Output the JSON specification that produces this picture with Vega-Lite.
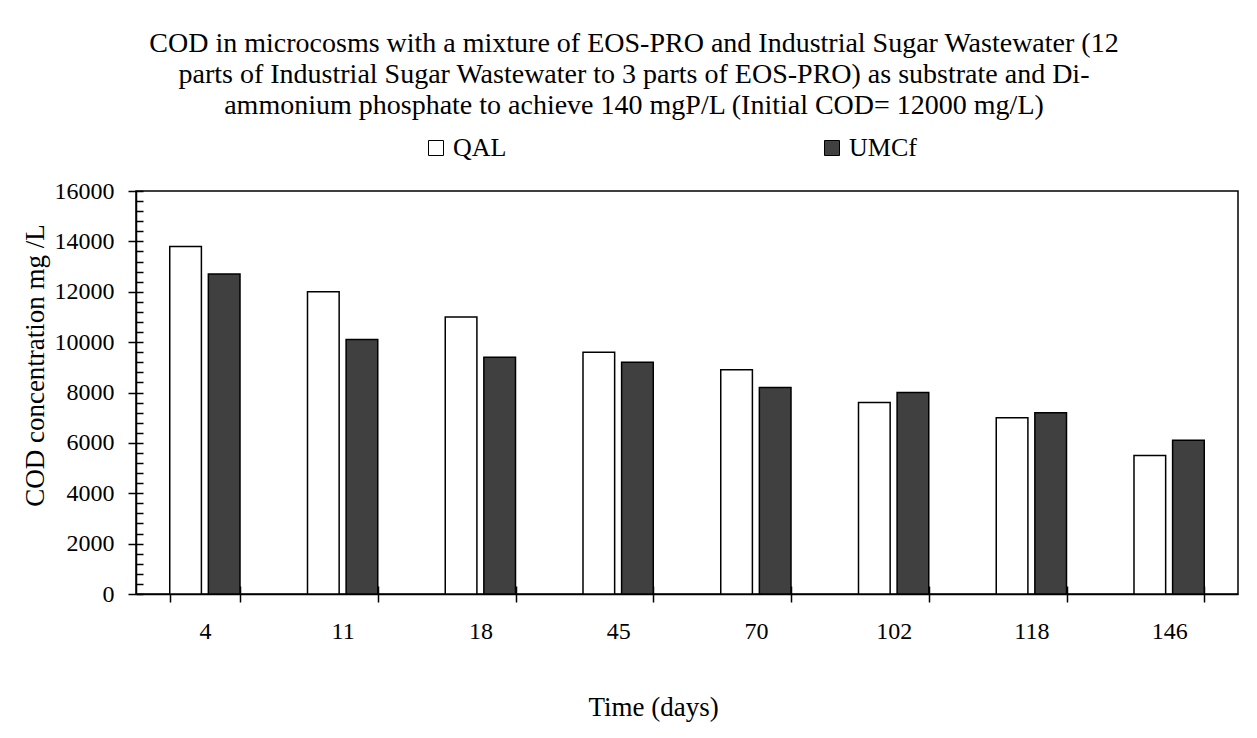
{
  "$schema": "https://vega.github.io/schema/vega-lite/v6.json",
  "width": 1102,
  "height": 403,
  "autosize": {"type": "none"},
  "padding": {"left": 136, "top": 191, "right": 19, "bottom": 144},
  "background": "white",
  "title": {
    "text": ["COD in microcosms with  a mixture of EOS-PRO and Industrial Sugar Wastewater (12", "parts of Industrial Sugar Wastewater to 3 parts of EOS-PRO) as substrate and Di-", "ammonium phosphate to achieve 140 mgP/L (Initial COD= 12000 mg/L)"],
    "anchor": "middle",
    "frame": "group",
    "baseline": "top",
    "dx": -53,
    "dy": 207,
    "offset": 14,
    "font": "Liberation Serif",
    "fontSize": 28,
    "fontWeight": "normal",
    "lineHeight": 31,
    "color": "black"
  },
  "data": {
    "values": [
      {"day": "4", "series": "QAL", "cod": 13800},
      {"day": "4", "series": "UMCf", "cod": 12700},
      {"day": "11", "series": "QAL", "cod": 12000},
      {"day": "11", "series": "UMCf", "cod": 10100},
      {"day": "18", "series": "QAL", "cod": 11000},
      {"day": "18", "series": "UMCf", "cod": 9400},
      {"day": "45", "series": "QAL", "cod": 9600},
      {"day": "45", "series": "UMCf", "cod": 9200},
      {"day": "70", "series": "QAL", "cod": 8900},
      {"day": "70", "series": "UMCf", "cod": 8200},
      {"day": "102", "series": "QAL", "cod": 7600},
      {"day": "102", "series": "UMCf", "cod": 8000},
      {"day": "118", "series": "QAL", "cod": 7000},
      {"day": "118", "series": "UMCf", "cod": 7200},
      {"day": "146", "series": "QAL", "cod": 5500},
      {"day": "146", "series": "UMCf", "cod": 6100}
    ]
  },
  "layer": [
    {
      "mark": {"type": "bar", "stroke": "black", "strokeWidth": 1.5},
      "encoding": {
        "x": {
          "field": "day", "type": "nominal",
          "sort": ["4", "11", "18", "45", "70", "102", "118", "146"],
          "scale": {"paddingInner": 0.49, "paddingOuter": 0.245},
          "axis": {
            "orient": "bottom",
            "title": "Time (days)",
            "titleX": 517, "titleY": 121, "titleBaseline": "alphabetic", "titleAnchor": null,
            "labelAngle": 0, "labelPadding": 17,
            "tickBand": "extent", "tickSize": 8
          }
        },
        "xOffset": {
          "field": "series", "type": "nominal",
          "scale": {"paddingInner": 0.18, "paddingOuter": 0}
        },
        "y": {
          "field": "cod", "type": "quantitative",
          "scale": {"domain": [0, 16000], "nice": false},
          "axis": {
            "orient": "left",
            "values": [0, 2000, 4000, 6000, 8000, 10000, 12000, 14000, 16000],
            "format": "d",
            "title": "COD concentration mg /L",
            "titleX": -101, "titleY": 174, "titleBaseline": "middle", "titleAnchor": null,
            "labelPadding": 14, "tickSize": 8, "grid": false
          }
        },
        "fill": {
          "field": "series", "type": "nominal",
          "scale": {"domain": ["QAL", "UMCf"], "range": ["#ffffff", "#404040"]},
          "legend": {
            "title": null,
            "orient": "none",
            "legendX": 287,
            "legendY": -56,
            "direction": "horizontal",
            "symbolType": "square",
            "symbolSize": 225,
            "symbolStrokeColor": "black",
            "symbolStrokeWidth": 1,
            "labelFont": "Liberation Serif",
            "labelFontSize": 26,
            "labelColor": "black",
            "labelOffset": 4,
            "columnPadding": 312
          }
        }
      }
    },
    {
      "mark": {"type": "bar", "opacity": 0},
      "encoding": {
        "x": {
          "field": "day", "type": "nominal",
          "sort": ["4", "11", "18", "45", "70", "102", "118", "146"],
          "axis": {"orient": "bottom", "title": null, "labels": false, "domain": false, "tickBand": "extent", "tickSize": 8, "offset": -8}
        },
        "y": {
          "field": "cod", "type": "quantitative",
          "axis": {
            "orient": "left", "title": null, "labels": false, "domain": false, "grid": false,
            "values": [0, 400, 800, 1200, 1600, 2000, 2400, 2800, 3200, 3600, 4000, 4400, 4800, 5200, 5600, 6000, 6400, 6800, 7200, 7600, 8000, 8400, 8800, 9200, 9600, 10000, 10400, 10800, 11200, 11600, 12000, 12400, 12800, 13200, 13600, 14000, 14400, 14800, 15200, 15600, 16000],
            "tickSize": 7, "offset": -7
          }
        }
      }
    }
  ],
  "resolve": {"axis": {"x": "independent", "y": "independent"}},
  "config": {
    "font": "Liberation Serif",
    "title": {"font": "Liberation Serif", "fontWeight": "normal", "color": "black"},
    "view": {"stroke": "black", "strokeWidth": 1.5},
    "axis": {
      "domainColor": "black", "domainWidth": 1.5,
      "tickColor": "black", "tickWidth": 1.5,
      "labelFont": "Liberation Serif", "labelFontSize": 24, "labelColor": "black",
      "titleFont": "Liberation Serif", "titleFontSize": 27, "titleFontWeight": "normal", "titleColor": "black",
      "grid": false
    }
  }
}
